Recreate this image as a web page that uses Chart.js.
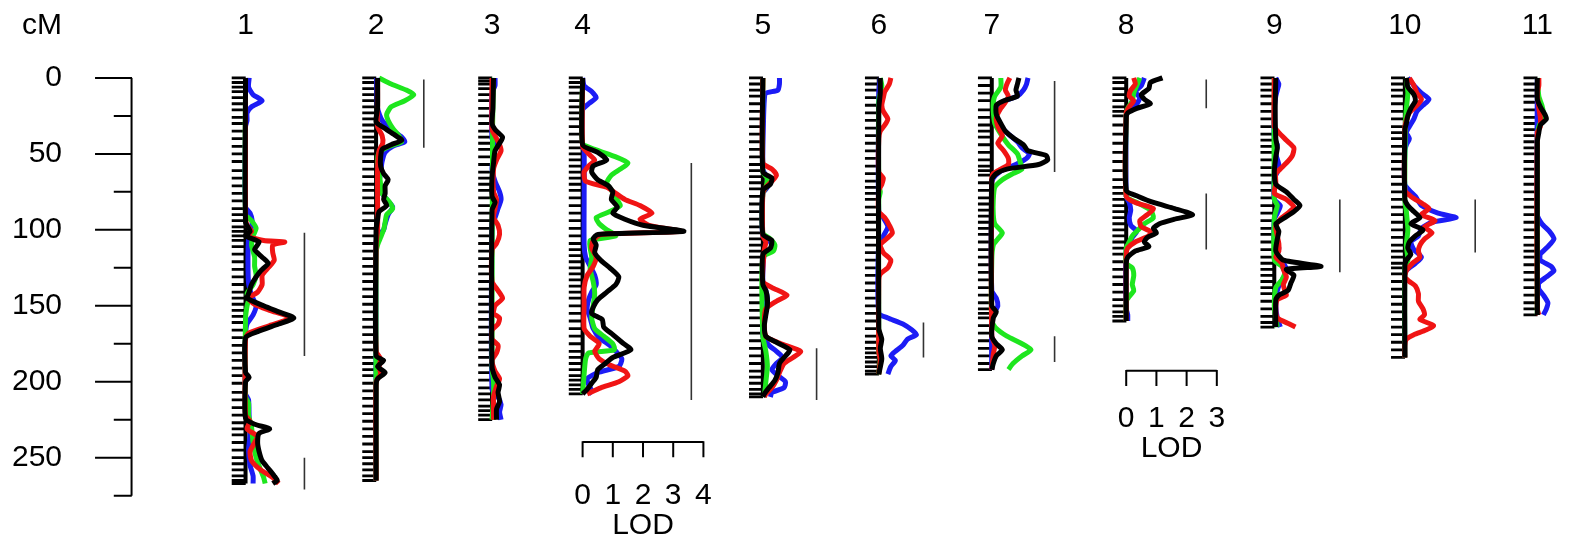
<!DOCTYPE html>
<html>
<head>
<meta charset="utf-8">
<script src="https://cdn.jsdelivr.net/npm/chart.js@4.4.1/dist/chart.umd.min.js"></script>
<style>
  html, body { margin: 0; padding: 0; background: #fff; }
  #wrap { width: 1589px; height: 556px; }
</style>
</head>
<body>
<div id="wrap"><canvas id="qtl"></canvas></div>
<script>
// ---- data ----
const chromosomes = ['1', '2', '3', '4', '5', '6', '7', '8', '9', '10', '11'];
const cmTicks = [0, 50, 100, 150, 200, 250];
const cmMinorTicks = [25, 75, 125, 175, 225, 275];
const cmAxisMax = 275;
const lodTicksChr4 = [0, 1, 2, 3, 4];
const lodTicksChr8 = [0, 1, 2, 3];

// marker positions (cM)
const chr1Markers = [0, 3, 6, 9, 13, 17, 21, 26, 30, 35, 40, 45, 50, 55, 61, 66, 71, 76, 81, 86, 90, 94, 98, 101, 104, 107, 111, 116, 121, 126, 131, 136, 141, 145, 149, 153, 157, 161, 166, 171, 176, 181, 186, 191, 196, 201, 207, 212, 217, 222, 227, 231, 235, 240, 245, 250, 254, 258, 262, 265, 267];
const chr2Markers = [0, 3, 7, 11, 15, 19, 23, 27, 31, 35, 39, 42, 46, 50, 55, 60, 65, 70, 74, 79, 84, 89, 94, 99, 104, 109, 114, 119, 124, 129, 134, 139, 144, 149, 154, 159, 164, 169, 174, 179, 184, 188, 192, 196, 201, 206, 211, 216, 221, 226, 231, 236, 241, 246, 250, 254, 258, 262, 265];
const chr3Markers = [0, 2, 4, 7, 11, 15, 20, 25, 30, 35, 39, 43, 47, 52, 57, 62, 66, 70, 74, 79, 84, 89, 94, 99, 104, 109, 114, 119, 124, 129, 134, 139, 144, 149, 154, 159, 164, 169, 174, 179, 184, 189, 194, 199, 204, 208, 212, 216, 219, 222, 225];
const chr4Markers = [0, 3, 6, 10, 15, 19, 23, 27, 32, 37, 42, 46, 50, 54, 58, 62, 66, 70, 74, 79, 84, 89, 94, 99, 104, 109, 113, 117, 121, 125, 129, 133, 137, 141, 145, 150, 155, 160, 165, 170, 175, 180, 184, 188, 192, 196, 199, 202, 205, 208];
const chr5Markers = [0, 4, 8, 12, 17, 22, 27, 32, 37, 42, 47, 52, 57, 61, 65, 69, 73, 78, 83, 88, 93, 98, 102, 106, 110, 114, 118, 123, 128, 133, 138, 143, 148, 153, 158, 163, 168, 173, 178, 183, 188, 193, 197, 201, 205, 208, 210];
const chr6Markers = [0, 4, 8, 13, 18, 23, 28, 33, 38, 43, 48, 53, 58, 63, 68, 72, 76, 80, 85, 90, 95, 100, 105, 110, 115, 120, 125, 130, 135, 140, 145, 150, 155, 160, 165, 170, 174, 178, 181, 184, 187, 190, 193, 195];
const chr7Markers = [0, 5, 10, 15, 21, 26, 31, 35, 39, 44, 49, 54, 58, 61, 64, 69, 74, 79, 83, 87, 91, 95, 99, 103, 108, 113, 118, 123, 128, 133, 138, 143, 148, 152, 155, 158, 163, 168, 173, 178, 183, 188, 192];
const chr8Markers = [0, 3, 7, 11, 15, 19, 22, 25, 31, 37, 43, 49, 55, 61, 67, 72, 76, 80, 84, 88, 92, 96, 100, 104, 108, 112, 116, 121, 126, 131, 136, 141, 146, 150, 154, 157, 160];
const chr9Markers = [0, 4, 8, 12, 17, 22, 27, 32, 37, 41, 45, 49, 54, 59, 64, 69, 74, 79, 84, 89, 94, 99, 103, 108, 113, 118, 122, 126, 130, 134, 138, 142, 147, 152, 157, 161, 164];
const chr10Markers = [0, 4, 8, 12, 17, 22, 27, 32, 36, 40, 45, 50, 55, 60, 65, 70, 75, 80, 85, 90, 95, 100, 105, 110, 114, 118, 122, 125, 129, 134, 139, 144, 149, 154, 159, 164, 169, 174, 179, 184];
const chr11Markers = [0, 4, 8, 12, 16, 21, 26, 30, 34, 38, 42, 46, 50, 55, 60, 65, 70, 75, 80, 85, 90, 95, 100, 105, 110, 114, 118, 123, 128, 133, 138, 143, 148, 152, 156];

// LOD profiles: [cM, LOD]
const chr1Blue = [[0,0.12],[6,0.1],[11,0.25],[15,0.55],[19,0.2],[23,0.05],[28,0.05],[32,0],[85,0],[89,0.15],[94,0.22],[100,0.18],[106,0.1],[120,0.08],[135,0.1],[143,0.2],[150,0.35],[156,0.25],[162,0.05],[170,0],[208,0],[212,0.1],[225,0.12],[235,0.15],[245,0.1],[255,0.15],[262,0.25],[267,0.25]];
const chr1Green = [[0,0],[90,0],[94,0.2],[99,0.35],[104,0.25],[110,0.2],[118,0.3],[124,0.3],[130,0.35],[136,0.25],[142,0.05],[146,0.1],[150,0.05],[158,0],[210,0],[214,0.1],[222,0.1],[230,0.2],[240,0.25],[250,0.35],[258,0.5],[263,0.6],[267,0.65]];
const chr1Red = [[0,0],[92,0],[97,0.05],[101,0.2],[104,0.05],[107,0.6],[108,1.3],[110,0.9],[115,0.9],[120,0.95],[125,0.75],[130,0.55],[136,0.55],[141,0.4],[145,0.1],[149,0.3],[153,0.8],[158,1.5],[163,0.8],[168,0.1],[172,0],[222,0],[226,0.15],[231,0.05],[236,0.4],[240,0.3],[246,0.15],[252,0.2],[258,0.5],[263,0.9],[267,1.1]];
const chr1Black = [[0,0],[95,0],[101,0.15],[104,0],[108,0.45],[113,0.3],[118,0.55],[122,0.75],[127,0.5],[131,0.35],[136,0.2],[142,0.1],[145,0.05],[150,0.6],[154,1.1],[158,1.6],[162,1.1],[167,0.4],[171,0],[194,0],[197,0.12],[200,0],[224,0],[228,0.3],[231,0.8],[234,0.45],[240,0.4],[246,0.45],[252,0.55],[257,0.75],[262,0.95],[265,1.05],[267,0.9]];

const chr2Blue = [[0,0.02],[20,0.05],[28,0.2],[34,0.5],[39,0.85],[42,0.95],[45,0.55],[49,0.3],[55,0.2],[62,0.15],[70,0.1],[76,0.2],[81,0.4],[85,0.55],[90,0.4],[96,0.3],[100,0.25],[104,0.05],[110,0],[265,0]];
const chr2Green = [[0,0.1],[4,0.5],[8,1.0],[11,1.25],[15,0.95],[19,0.5],[24,0.35],[28,0.4],[33,0.55],[38,0.75],[42,0.85],[45,0.45],[49,0.1],[55,0.05],[62,0.1],[70,0.15],[76,0.2],[82,0.45],[86,0.55],[90,0.35],[95,0.3],[100,0.25],[105,0.15],[110,0.05],[115,0],[265,0]];
const chr2Red = [[0,0.05],[20,0.05],[32,0.05],[38,0.2],[43,0.22],[48,0.1],[60,0.05],[80,0.05],[100,0.05],[110,0],[180,0],[185,0.15],[190,0.1],[195,0.15],[200,0],[265,0]];
const chr2Black = [[0,0.05],[20,0.05],[29,0],[34,0.35],[38,0.65],[41,0.85],[44,0.5],[47,0.2],[52,0.15],[58,0.15],[63,0.25],[67,0.4],[71,0.3],[76,0.3],[80,0.25],[84,0.35],[88,0.1],[93,0.05],[100,0],[183,0],[186,0.25],[190,0.05],[194,0.3],[198,0.05],[202,0],[265,0]];

const chr3Blue = [[0,0.1],[5,0.1],[10,0],[40,0],[44,0.1],[50,0.05],[60,0],[68,0.1],[75,0.25],[80,0.3],[86,0.2],[92,0.1],[96,0],[205,0],[210,0.2],[215,0.3],[220,0.25],[225,0.3]];
const chr3Green = [[0,0.05],[30,0.02],[190,0],[200,0.05],[210,0.05],[225,0]];
const chr3Red = [[0,0],[34,0],[38,0.1],[44,0.25],[48,0.3],[54,0.15],[60,0.05],[75,0.05],[80,0.15],[86,0.1],[92,0.05],[97,0.2],[103,0.25],[109,0.15],[113,0],[134,0],[140,0.2],[145,0.35],[150,0.1],[155,0.05],[158,0.25],[162,0.2],[166,0],[172,0],[176,0.2],[181,0.15],[186,0],[193,0.1],[198,0.25],[203,0.15],[210,0.05],[215,0.05],[225,0.05]];
const chr3Black = [[0,0.05],[20,0.03],[30,0],[34,0.1],[39,0.35],[43,0.25],[48,0.1],[56,0.05],[65,0],[78,0],[82,0.1],[87,0],[190,0],[197,0.1],[202,0.25],[207,0.2],[213,0.25],[218,0.15],[225,0.15]];

const chr4Blue = [[0,0],[5,0.05],[9,0.3],[13,0.45],[17,0.2],[21,0],[45,0],[48,0.05],[80,0.05],[110,0.05],[118,0.1],[124,0.25],[130,0.4],[136,0.45],[141,0.3],[146,0.2],[152,0.15],[158,0.25],[165,0.35],[171,0.55],[176,0.9],[181,1.15],[185,1.3],[190,1.2],[194,0.5],[198,0.15],[202,0.2],[206,0.3],[208,0.2]];
const chr4Green = [[0,0],[43,0],[47,0.4],[52,1.1],[56,1.5],[60,1.25],[64,0.95],[69,0.8],[74,0.95],[79,1.1],[84,1.25],[88,0.9],[92,0.45],[96,0.55],[100,0.8],[104,1.1],[107,0.25],[112,0.25],[118,0.3],[126,0.25],[134,0.35],[142,0.4],[150,0.35],[158,0.3],[165,0.4],[170,0.7],[175,1.0],[179,1.05],[181,0.2],[185,0.1],[195,0.05],[208,0]];
const chr4Red = [[0,0],[45,0],[50,0.2],[54,0.4],[58,0.2],[62,0.05],[68,0.1],[72,0.8],[76,1.1],[80,1.4],[84,1.9],[89,2.3],[93,1.9],[97,2.2],[101,3.25],[103,0.6],[107,0.35],[112,0.3],[118,0.45],[124,0.35],[130,0.15],[138,0.05],[150,0.05],[165,0.05],[170,0.25],[175,0.55],[180,0.4],[185,0.55],[189,0.9],[193,1.4],[196,1.5],[200,1.2],[204,0.6],[208,0.15]];
const chr4Black = [[0,0],[44,0],[49,0.5],[54,0.8],[58,0.35],[62,0.3],[67,0.5],[71,0.85],[75,1.0],[80,0.95],[85,1.15],[89,1.0],[93,1.4],[97,2.0],[101,3.35],[103,0.5],[106,0.35],[110,0.45],[115,0.4],[120,0.6],[125,0.9],[131,1.2],[136,1.1],[141,0.8],[146,0.5],[151,0.35],[155,0.3],[159,0.65],[164,0.7],[169,1.0],[174,1.3],[179,1.6],[184,1.0],[188,0.75],[192,0.5],[197,0.45],[201,0.3],[205,0.15],[208,0]];

const chr5Blue = [[0,0.55],[4,0.55],[8,0.5],[10,0.1],[14,0.05],[30,0.02],[60,0],[64,0.1],[68,0.25],[72,0.15],[76,0],[104,0],[108,0.25],[112,0.3],[116,0.05],[135,0],[140,0.1],[146,0.15],[152,0.05],[170,0],[176,0.2],[180,0.45],[184,0.65],[188,0.45],[192,0.3],[196,0.5],[200,0.75],[204,0.7],[207,0.3],[210,0.25]];
const chr5Green = [[0,0],[62,0],[66,0.15],[72,0.1],[76,0],[102,0],[106,0.25],[110,0.4],[114,0.35],[118,0],[170,0],[180,0.1],[190,0.15],[200,0.1],[210,0.05]];
const chr5Red = [[0,0],[56,0],[60,0.3],[64,0.45],[68,0.3],[72,0.1],[76,0],[104,0],[108,0.1],[113,0.05],[134,0],[138,0.3],[143,0.8],[147,0.45],[152,0.1],[160,0.05],[170,0.1],[175,0.6],[180,1.25],[184,1.0],[188,0.7],[194,0.55],[199,0.45],[204,0.3],[208,0.1],[210,0.05]];
const chr5Black = [[0,0],[62,0],[66,0.3],[70,0.25],[74,0],[103,0],[107,0.3],[112,0.25],[116,0],[136,0],[140,0.1],[145,0.15],[150,0.15],[156,0.1],[163,0.05],[170,0.1],[174,0.45],[179,0.9],[183,0.75],[188,0.55],[194,0.5],[199,0.4],[204,0.2],[208,0.05],[210,0]];

const chr6Blue = [[0,0.05],[10,0],[88,0],[92,0.15],[98,0.3],[104,0.15],[108,0],[155,0],[158,0.3],[162,0.8],[166,1.1],[169,1.25],[172,0.95],[176,0.8],[180,0.55],[183,0.4],[186,0.55],[190,0.4],[195,0.3]];
const chr6Green = [[0,0.05],[5,0.1],[10,0.05],[15,0],[70,0],[75,0.05],[80,0],[180,0],[185,0.05],[195,0]];
const chr6Red = [[0,0.4],[4,0.35],[9,0.2],[13,0.15],[18,0.1],[22,0.15],[27,0.3],[31,0.2],[35,0.05],[40,0],[62,0],[66,0.15],[70,0.1],[74,0],[88,0],[92,0.2],[97,0.35],[102,0.45],[106,0.25],[110,0.05],[115,0.15],[120,0.4],[125,0.3],[129,0.05],[133,0],[180,0],[186,0.05],[195,0]];
const chr6Black = [[0,0.05],[10,0.05],[20,0],[165,0],[172,0.1],[178,0.05],[185,0.1],[195,0]];

const chr7Blue = [[0,1.2],[4,1.15],[8,1.05],[12,0.85],[15,0.45],[19,0.15],[24,0.1],[28,0.2],[32,0.3],[37,0.55],[42,0.85],[46,1.0],[50,1.25],[53,1.15],[56,0.9],[59,0.55],[62,0.25],[66,0.05],[70,0],[140,0],[145,0.15],[150,0.2],[154,0.1],[158,0],[192,0]];
const chr7Green = [[0,0.3],[6,0.3],[12,0.1],[16,0.05],[22,0.05],[30,0.1],[37,0.3],[44,0.55],[50,0.85],[56,0.95],[60,1.0],[63,0.7],[67,0.35],[72,0.1],[80,0.05],[90,0.05],[96,0.1],[102,0.35],[106,0.2],[110,0.05],[120,0],[160,0],[165,0.15],[170,0.5],[175,1.0],[179,1.3],[183,1.0],[188,0.7],[192,0.55]];
const chr7Red = [[0,0.6],[4,0.5],[8,0.45],[12,0.55],[16,0.45],[20,0.3],[26,0.15],[32,0.2],[38,0.35],[43,0.2],[48,0.4],[53,0.55],[57,0.55],[60,0.3],[63,0.05],[66,0],[170,0],[176,0.1],[182,0.05],[192,0]];
const chr7Black = [[0,0.9],[4,0.85],[8,0.8],[12,0.85],[15,0.4],[18,0.15],[24,0.15],[30,0.3],[35,0.45],[40,0.75],[44,1.05],[48,1.2],[51,1.8],[54,1.85],[57,1.55],[60,0.5],[63,0.15],[67,0],[150,0],[154,0.15],[158,0.05],[170,0],[175,0.15],[179,0.35],[183,0.15],[188,0.05],[192,0]];

const chr8Blue = [[0,0.6],[5,0.5],[9,0.3],[13,0.45],[17,0.35],[21,0.1],[25,0],[78,0],[82,0.1],[87,0.15],[92,0.1],[97,0.15],[101,0.35],[105,0.2],[109,0.1],[113,0],[152,0],[156,0.05],[160,0.05]];
const chr8Green = [[0,0.45],[5,0.35],[10,0.25],[15,0.2],[20,0.05],[24,0],[78,0],[82,0.35],[87,0.8],[92,0.9],[96,0.6],[100,0.4],[104,0.2],[108,0.1],[112,0],[122,0],[125,0.2],[130,0.25],[136,0.2],[140,0.25],[144,0.1],[147,0],[160,0]];
const chr8Red = [[0,0.25],[4,0.3],[8,0.15],[12,0.1],[15,0.25],[19,0.1],[23,0],[78,0],[82,0.3],[86,0.9],[90,0.7],[94,0.45],[98,0.5],[101,0.8],[104,0.75],[108,0.3],[112,0.05],[116,0],[160,0]];
const chr8Black = [[0,1.2],[3,0.8],[7,0.75],[11,0.5],[14,0.6],[17,0.8],[20,0.35],[23,0.05],[26,0],[74,0],[78,0.4],[82,0.9],[86,1.6],[90,2.2],[93,1.6],[96,1.1],[99,0.9],[102,1.0],[105,0.7],[108,0.6],[111,0.75],[114,0.3],[118,0.05],[122,0],[160,0]];

const chr9Blue = [[0,0.05],[4,0.15],[8,0.1],[12,0.05],[20,0],[40,0],[44,0.1],[50,0.05],[57,0.15],[62,0.1],[66,0],[80,0],[84,0.2],[89,0.1],[93,0],[108,0],[112,0.15],[117,0.1],[122,0.3],[126,0.4],[130,0.35],[135,0.2],[140,0.1],[150,0.05],[158,0.1],[164,0.2]];
const chr9Green = [[0,0],[80,0],[84,0.1],[88,0.05],[92,0],[120,0],[124,0.25],[128,0.35],[133,0.25],[138,0.05],[150,0],[158,0.05],[164,0.1]];
const chr9Red = [[0,0],[32,0],[36,0.15],[41,0.4],[46,0.65],[51,0.6],[55,0.45],[59,0.25],[63,0.05],[70,0.05],[76,0],[80,0.4],[85,0.65],[89,0.45],[93,0.2],[98,0.05],[104,0.1],[109,0.15],[114,0.15],[118,0.05],[122,0.25],[126,0.3],[131,0.4],[136,0.3],[140,0.35],[143,0.4],[146,0.1],[152,0.05],[158,0.1],[162,0.5],[164,0.7]];
const chr9Black = [[0,0.05],[20,0.03],[40,0.05],[46,0.1],[52,0.05],[62,0],[70,0.05],[75,0.4],[80,0.65],[84,0.85],[88,0.65],[92,0.35],[96,0.05],[101,0.15],[106,0.1],[114,0.05],[120,0.3],[124,1.55],[126,0.4],[130,0.65],[135,0.55],[140,0.45],[143,0.15],[146,0.05],[164,0.05]];

const chr10Blue = [[0,0.1],[5,0.3],[10,0.55],[14,0.8],[18,0.6],[22,0.4],[27,0.3],[32,0.15],[36,0.05],[40,0.15],[44,0.05],[48,0],[70,0],[74,0.15],[78,0.35],[84,0.55],[89,1.1],[92,1.7],[95,0.9],[99,0.55],[104,0.45],[108,0.2],[113,0.3],[118,0.55],[122,0.35],[125,0.15],[128,0],[184,0]];
const chr10Green = [[0,0.05],[10,0.1],[20,0.05],[30,0.02],[80,0],[88,0.05],[100,0.1],[110,0.05],[120,0.1],[124,0],[184,0]];
const chr10Red = [[0,0.15],[5,0.3],[10,0.4],[14,0.55],[18,0.4],[23,0.15],[28,0.05],[33,0],[74,0],[78,0.2],[83,0.6],[86,0.8],[90,0.55],[94,1.0],[98,0.65],[102,0.9],[106,0.65],[110,0.5],[114,0.45],[118,0.5],[122,0.25],[127,0.05],[131,0],[134,0.15],[137,0.35],[142,0.45],[147,0.45],[152,0.6],[156,0.65],[159,0.5],[163,0.95],[166,0.7],[169,0.3],[172,0.05],[176,0],[184,0]];
const chr10Black = [[0,0.05],[6,0.1],[11,0.3],[15,0.35],[20,0.2],[25,0.1],[30,0.05],[34,0],[80,0],[84,0.1],[88,0.3],[92,0.5],[96,0.2],[100,0.6],[104,0.35],[108,0.15],[112,0.1],[116,0.2],[120,0.05],[124,0],[184,0]];

const chr11Blue = [[0,0],[90,0],[96,0.15],[101,0.4],[106,0.55],[111,0.35],[116,0.1],[120,0.1],[124,0.45],[127,0.55],[131,0.3],[135,0.05],[139,0.05],[143,0.2],[148,0.35],[152,0.3],[156,0.2]];
const chr11Green = [[0,0],[12,0.05],[18,0.15],[23,0.2],[27,0.15],[32,0.05],[38,0],[156,0]];
const chr11Red = [[0,0.05],[5,0.05],[10,0],[20,0.05],[26,0.1],[32,0.1],[36,0],[152,0],[156,0.05]];
const chr11Black = [[0,0],[14,0],[19,0.1],[24,0.25],[27,0.3],[31,0.1],[36,0.05],[42,0],[156,0]];

// QTL support intervals (cM)
const chr1Qtl = [[102, 183], [250, 271]];
const chr2Qtl = [[1, 46]];
const chr4Qtl = [[56, 212]];
const chr5Qtl = [[178, 212]];
const chr6Qtl = [[161, 184]];
const chr7Qtl = [[2, 62], [170, 187]];
const chr8Qtl = [[1, 20], [76, 113]];
const chr9Qtl = [[80, 128]];
const chr10Qtl = [[80, 115]];

// ---- layout ----
const W = 1589, H = 556;
const PX_PER_LOD = 31, PX_PER_CM = 1.64, TOP = 62;
const chrAxisPx = [231, 365, 484, 577, 762, 881, 997, 1135, 1287, 1421, 1557];
const qtlOffset = [1.95, 1.58, 0, 3.6, 1.78, 1.48, 2.08, 2.65, 2.17, 2.33, 0];
const cmAxisPx = 114;
const fontFamily = '"Liberation Sans", Arial, Helvetica, sans-serif';
const colors = { blue: '#1c1cf5', green: '#1ee61e', red: '#f01414', black: '#000000' };

const markers = [chr1Markers, chr2Markers, chr3Markers, chr4Markers, chr5Markers, chr6Markers,
  chr7Markers, chr8Markers, chr9Markers, chr10Markers, chr11Markers];
const profiles = [
  [chr1Blue, chr1Green, chr1Red, chr1Black], [chr2Blue, chr2Green, chr2Red, chr2Black],
  [chr3Blue, chr3Green, chr3Red, chr3Black], [chr4Blue, chr4Green, chr4Red, chr4Black],
  [chr5Blue, chr5Green, chr5Red, chr5Black], [chr6Blue, chr6Green, chr6Red, chr6Black],
  [chr7Blue, chr7Green, chr7Red, chr7Black], [chr8Blue, chr8Green, chr8Red, chr8Black],
  [chr9Blue, chr9Green, chr9Red, chr9Black], [chr10Blue, chr10Green, chr10Red, chr10Black],
  [chr11Blue, chr11Green, chr11Red, chr11Black]
];
const qtls = [chr1Qtl, chr2Qtl, [], chr4Qtl, chr5Qtl, chr6Qtl, chr7Qtl, chr8Qtl, chr9Qtl, chr10Qtl, []];

const px2x = p => p / PX_PER_LOD;
const px2cm = p => (p - TOP) / PX_PER_CM;

function line(points, color, width, order) {
  return { data: points, showLine: true, borderColor: color, borderWidth: width,
    pointRadius: 0, tension: 0.2, order: order };
}
function ticks(points, radius, rotation, width, order) {
  return { data: points, showLine: false, pointStyle: 'line', pointRadius: radius,
    rotation: rotation, pointBorderWidth: width, pointBorderColor: '#000',
    pointBackgroundColor: '#000', order: order };
}

const datasets = [];

// cM axis
datasets.push(line([{ x: px2x(cmAxisPx), y: 0 }, { x: px2x(cmAxisPx), y: cmAxisMax }], '#000', 2, 9));
datasets.push(ticks(cmTicks.map(v => ({ x: px2x(cmAxisPx - 18.5), y: v })), 18.5, 0, 2, 9));
datasets.push(ticks(cmMinorTicks.map(v => ({ x: px2x(cmAxisPx - 9), y: v })), 9, 0, 2, 9));

chromosomes.forEach((c, i) => {
  const base = px2x(chrAxisPx[i]);
  const len = markers[i][markers[i].length - 1];
  datasets.push(line([{ x: base, y: 0 }, { x: base, y: len }], '#000', 4, 8));
  datasets.push(ticks(markers[i].map(m => ({ x: base - px2x(7), y: m })), 7, 0, 2.8, 8));
  const cols = [colors.blue, colors.green, colors.red, colors.black];
  profiles[i].forEach((prof, k) => {
    datasets.push(line(prof.map(p => ({ x: base + p[1], y: p[0] })), cols[k], 5, 4 - k));
  });
  qtls[i].forEach(q => {
    datasets.push(line([{ x: base + qtlOffset[i], y: q[0] }, { x: base + qtlOffset[i], y: q[1] }], '#333', 1.6, 7));
  });
});

// LOD scale bars
const lodBars = [[3, lodTicksChr4, 455], [7, lodTicksChr8, 378]];
lodBars.forEach(([chrIdx, tickVals, barPx]) => {
  const base = px2x(chrAxisPx[chrIdx]);
  const last = tickVals[tickVals.length - 1];
  datasets.push(line([{ x: base, y: px2cm(barPx) }, { x: base + last, y: px2cm(barPx) }], '#000', 2, 9));
  datasets.push(ticks(tickVals.map(v => ({ x: base + v, y: px2cm(barPx + 8) })), 8, 90, 2, 9));
});

const textPlugin = {
  id: 'qtlText',
  afterDatasetsDraw(chart) {
    const { ctx, scales: { x, y } } = chart;
    ctx.save();
    ctx.fillStyle = '#000';
    ctx.font = '30px ' + fontFamily;
    ctx.textBaseline = 'middle';
    ctx.textAlign = 'right';
    cmTicks.forEach(v => ctx.fillText(String(v), 62, y.getPixelForValue(v)));
    ctx.textAlign = 'center';
    ctx.fillText('cM', 42, 26);
    chromosomes.forEach((c, i) => ctx.fillText(c, x.getPixelForValue(px2x(chrAxisPx[i])), 26));
    lodBars.forEach(([ci, vals, barPx]) => {
      const base = px2x(chrAxisPx[ci]);
      vals.forEach(v => ctx.fillText(String(v), x.getPixelForValue(base + v), barPx + 41));
      ctx.fillText('LOD', x.getPixelForValue(base + vals[vals.length - 1] / 2), barPx + 71);
    });
    ctx.restore();
  }
};

new Chart(document.getElementById('qtl'), {
  type: 'scatter',
  data: { datasets: datasets },
  options: {
    responsive: true,
    maintainAspectRatio: false,
    animation: false,
    events: [],
    layout: { padding: 0 },
    plugins: { legend: { display: false }, tooltip: { enabled: false } },
    scales: {
      x: { type: 'linear', display: false, min: 0, max: W / PX_PER_LOD },
      y: { type: 'linear', display: false, reverse: true, min: -TOP / PX_PER_CM, max: (H - TOP) / PX_PER_CM }
    }
  },
  plugins: [textPlugin]
});
</script>
</body>
</html>
